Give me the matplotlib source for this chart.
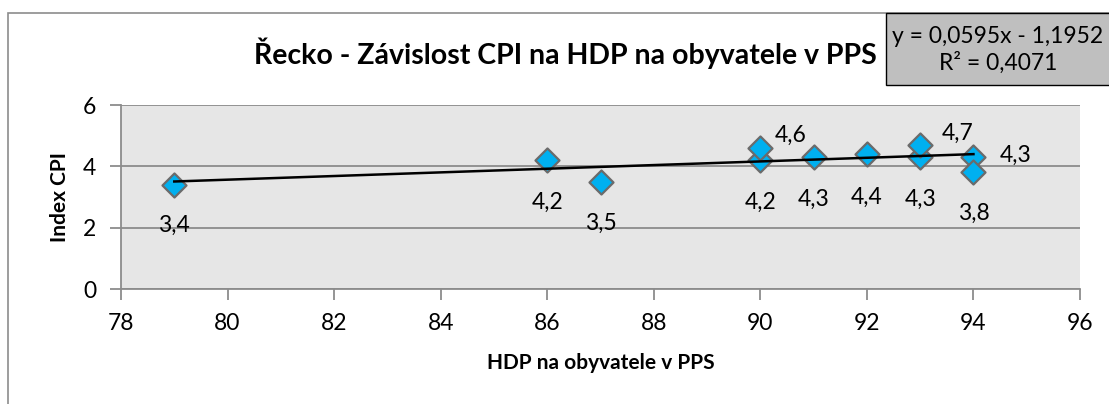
import numpy as np
import matplotlib
matplotlib.use("Agg")
import matplotlib.pyplot as plt
from matplotlib.patches import Rectangle

plt.rcParams['font.family'] = ['Lato', 'DejaVu Sans']

# data
hdp = [79, 86, 87, 90, 90, 91, 92, 93, 93, 94, 94]
cpi = [3.4, 4.2, 3.5, 4.2, 4.6, 4.3, 4.4, 4.3, 4.7, 4.3, 3.8]
x_ticks = [78, 80, 82, 84, 86, 88, 90, 92, 94, 96]
y_ticks = [0, 2, 4, 6]
title = "Řecko - Závislost CPI na HDP na obyvatele v PPS"
x_label = "HDP na obyvatele v PPS"
y_label = "Index CPI"

# where each data label sits relative to its point (pixels)
label_offsets = [(0, -41), (0, -42), (0, -42), (0, -42), (30, 13), (0, -42),
                 (0, -43), (0, -42), (37, 12), (42, 2), (0, -41)]

W, H = 1109, 404
fig = plt.figure(figsize=(W / 100, H / 100), dpi=100)
fig.patch.set_facecolor("white")

# outer chart frame (runs off the right and bottom edge)
fig.patches.append(Rectangle((8 / W, -0.1), 1.2, 1 - 13 / H + 0.1, transform=fig.transFigure,
                             fill=False, edgecolor="#8c8c8c", linewidth=1.2))

ax = fig.add_axes([121 / W, 1 - 289 / H, (1080 - 121) / W, (289 - 105) / H])
ax.set_facecolor("#e6e6e6")
ax.set_xlim(78, 96)
ax.set_ylim(0, 6)
ax.set_xticks(x_ticks)
ax.set_yticks(y_ticks)
ax.set_xticklabels([str(t) for t in x_ticks])
ax.set_yticklabels([str(t) for t in y_ticks])
ax.tick_params(labelsize=16.5, length=8, width=1.3, color="#8c8c8c")
ax.tick_params(axis="x", pad=9)
ax.tick_params(axis="y", pad=10)
ax.grid(axis="y", color="#8c8c8c", linewidth=1.3)
ax.set_axisbelow(True)
for s in ["top", "right"]:
    ax.spines[s].set_visible(False)
for s in ["left", "bottom"]:
    ax.spines[s].set_color("#8c8c8c")
    ax.spines[s].set_linewidth(1.3)

ax.scatter(hdp, cpi, marker="D", s=150, facecolor="#00b0f0", edgecolor="#6b6b6b",
           linewidth=1.6, zorder=3)

# linear trend
k, q = np.polyfit(hdp, cpi, 1)
fit = np.polyval([k, q], hdp)
r2 = 1 - np.sum((np.array(cpi) - fit) ** 2) / np.sum((np.array(cpi) - np.mean(cpi)) ** 2)
xs = np.array([min(hdp), max(hdp)])
ax.plot(xs, k * xs + q, color="black", linewidth=1.8, zorder=4)

for xv, yv, off in zip(hdp, cpi, label_offsets):
    ax.annotate(f"{yv:.1f}".replace(".", ","), (xv, yv), xytext=off,
                textcoords="offset pixels", ha="center", va="center", fontsize=16.5, zorder=5)

ax.set_xlabel(x_label, fontsize=15, fontweight="bold", va="center")
ax.xaxis.set_label_coords(0.5, (289 - 363) / 184)
ax.set_ylabel(y_label, fontsize=15, fontweight="bold", va="center")
ax.yaxis.set_label_coords((60 - 121) / 959, 0.5)

fig.text(565 / W, 1 - 53 / H, title, fontsize=20.5, fontweight="bold", ha="center", va="center")

# equation box
fig.patches.append(Rectangle((886 / W, 1 - 85 / H), 260 / W, 72 / H, transform=fig.transFigure,
                             facecolor="#bfbfbf", edgecolor="black", linewidth=1.0))
sign = "-" if q < 0 else "+"
eq = f"y = {k:.4f}x {sign} {abs(q):.4f}".replace(".", ",")
rr = f"R² = {r2:.4f}".replace(".", ",")
fig.text(998 / W, 1 - 50 / H, eq + "\n" + rr, fontsize=16.5, ha="center", va="center",
         multialignment="center", linespacing=1.25)

fig.savefig("out.png", dpi=100)
